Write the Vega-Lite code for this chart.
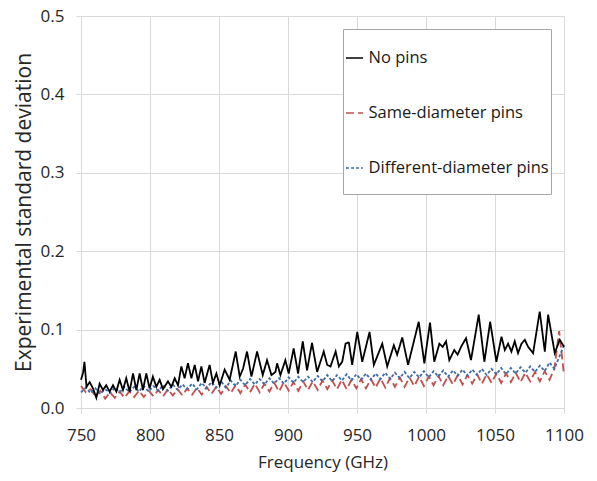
{
  "$schema": "https://vega.github.io/schema/vega-lite/v6.json",
  "width": 483,
  "height": 392,
  "autosize": {"type": "none"},
  "padding": {"left": 81, "top": 16, "right": 33, "bottom": 73},
  "config": {
    "font": "Open Sans",
    "view": {"stroke": null},
    "axis": {
      "gridColor": "#d9d9d9", "domainColor": "#d9d9d9", "tickColor": "#d9d9d9", "tickSize": 5,
      "labelFontSize": 17, "labelColor": "#262626", "titleFontSize": 17, "titleFontWeight": "normal", "titleColor": "#262626"
    },
    "legend": {
      "orient": "none", "legendX": 262, "legendY": 13,
      "strokeColor": "#a6a6a6", "fillColor": "white", "padding": 2,
      "symbolType": "M0,-0.77M0,0.77M-0.327,0H0.327", "symbolSize": 2704, "symbolStrokeWidth": 1.6,
      "symbolOffset": -17.5, "labelOffset": -13, "rowPadding": 4,
      "labelFontSize": 16.5, "labelColor": "#1a1a1a", "labelLimit": 300
    }
  },
  "datasets": {
    "black": [
      {"f":750,"v":0.036},{"f":751.5,"v":0.045},{"f":752.5,"v":0.059},{"f":754,"v":0.027},{"f":756.3,"v":0.033},
      {"f":758.7,"v":0.025},{"f":761.1,"v":0.013},{"f":763.5,"v":0.031},{"f":765.9,"v":0.023},{"f":768.3,"v":0.029},
      {"f":770.7,"v":0.021},{"f":773.2,"v":0.029},{"f":775.6,"v":0.021},{"f":778,"v":0.036},{"f":780.4,"v":0.023},
      {"f":782.8,"v":0.038},{"f":785.2,"v":0.021},{"f":787.7,"v":0.044},{"f":790.1,"v":0.023},{"f":792.5,"v":0.044},
      {"f":794.9,"v":0.023},{"f":797.3,"v":0.044},{"f":799.7,"v":0.025},{"f":802.1,"v":0.04},{"f":804.6,"v":0.027},
      {"f":807,"v":0.036},{"f":809.4,"v":0.024},{"f":813,"v":0.034},{"f":815.5,"v":0.027},{"f":817.9,"v":0.038},
      {"f":820.3,"v":0.029},{"f":822.7,"v":0.053},{"f":825.1,"v":0.038},{"f":827.5,"v":0.057},{"f":830,"v":0.038},
      {"f":832.4,"v":0.055},{"f":834.8,"v":0.034},{"f":837.2,"v":0.053},{"f":839.6,"v":0.032},{"f":843.2,"v":0.055},
      {"f":845.6,"v":0.032},{"f":848.1,"v":0.044},{"f":850.5,"v":0.029},{"f":854.1,"v":0.049},{"f":857.7,"v":0.036},
      {"f":862.1,"v":0.072},{"f":865,"v":0.04},{"f":867.4,"v":0.05},{"f":870.3,"v":0.072},{"f":873.5,"v":0.04},
      {"f":877.6,"v":0.072},{"f":881.7,"v":0.042},{"f":884.8,"v":0.061},{"f":888,"v":0.042},{"f":890.9,"v":0.046},
      {"f":892.1,"v":0.057},{"f":894.5,"v":0.042},{"f":898.1,"v":0.061},{"f":900.5,"v":0.044},{"f":904.1,"v":0.076},
      {"f":907.3,"v":0.044},{"f":910.7,"v":0.085},{"f":913.8,"v":0.048},{"f":917.4,"v":0.083},{"f":921.1,"v":0.046},
      {"f":925.9,"v":0.072},{"f":928.4,"v":0.055},{"f":930.8,"v":0.053},{"f":934.5,"v":0.072},{"f":936.9,"v":0.053},
      {"f":939.3,"v":0.059},{"f":941.7,"v":0.082},{"f":944.1,"v":0.084},{"f":946.5,"v":0.055},{"f":950.2,"v":0.097},
      {"f":953.8,"v":0.059},{"f":959.1,"v":0.097},{"f":962.2,"v":0.055},{"f":968.3,"v":0.082},{"f":971.9,"v":0.053},
      {"f":976.7,"v":0.08},{"f":979.1,"v":0.068},{"f":982.8,"v":0.09},{"f":987,"v":0.055},{"f":994.7,"v":0.11},
      {"f":998.8,"v":0.057},{"f":1002.9,"v":0.109},{"f":1006,"v":0.059},{"f":1009.7,"v":0.082},{"f":1012.1,"v":0.078},
      {"f":1014.5,"v":0.085},{"f":1016.9,"v":0.061},{"f":1020.5,"v":0.074},{"f":1022.9,"v":0.068},{"f":1025.4,"v":0.078},
      {"f":1029,"v":0.089},{"f":1032.6,"v":0.061},{"f":1038.2,"v":0.119},{"f":1042.3,"v":0.059},{"f":1046.5,"v":0.11},
      {"f":1051,"v":0.059},{"f":1054.7,"v":0.091},{"f":1057.1,"v":0.074},{"f":1059.5,"v":0.082},{"f":1061.9,"v":0.072},
      {"f":1064.3,"v":0.085},{"f":1066.7,"v":0.07},{"f":1069.2,"v":0.082},{"f":1071.6,"v":0.087},{"f":1074,"v":0.078},
      {"f":1077.6,"v":0.07},{"f":1082.4,"v":0.123},{"f":1086.1,"v":0.072},{"f":1088.5,"v":0.119},{"f":1093.3,"v":0.07},
      {"f":1096.9,"v":0.087},{"f":1100,"v":0.078}
    ],
    "pins": [
      {"f":750,"Same-diameter pins":0.028,"Different-diameter pins":0.02},
      {"f":753.5,"Same-diameter pins":0.02,"Different-diameter pins":0.026},
      {"f":757,"Same-diameter pins":0.024,"Different-diameter pins":0.019},
      {"f":760.5,"Same-diameter pins":0.015,"Different-diameter pins":0.025},
      {"f":764,"Same-diameter pins":0.022,"Different-diameter pins":0.018},
      {"f":767.5,"Same-diameter pins":0.012,"Different-diameter pins":0.024},
      {"f":771,"Same-diameter pins":0.02,"Different-diameter pins":0.019},
      {"f":774.5,"Same-diameter pins":0.013,"Different-diameter pins":0.026},
      {"f":778,"Same-diameter pins":0.021,"Different-diameter pins":0.02},
      {"f":781.5,"Same-diameter pins":0.013,"Different-diameter pins":0.027},
      {"f":785,"Same-diameter pins":0.021,"Different-diameter pins":0.02},
      {"f":788.5,"Same-diameter pins":0.014,"Different-diameter pins":0.027},
      {"f":792,"Same-diameter pins":0.022,"Different-diameter pins":0.021},
      {"f":795.5,"Same-diameter pins":0.014,"Different-diameter pins":0.028},
      {"f":799,"Same-diameter pins":0.022,"Different-diameter pins":0.021},
      {"f":802.5,"Same-diameter pins":0.015,"Different-diameter pins":0.028},
      {"f":806,"Same-diameter pins":0.023,"Different-diameter pins":0.022},
      {"f":809.5,"Same-diameter pins":0.015,"Different-diameter pins":0.029},
      {"f":813,"Same-diameter pins":0.024,"Different-diameter pins":0.022},
      {"f":816.5,"Same-diameter pins":0.016,"Different-diameter pins":0.03},
      {"f":820,"Same-diameter pins":0.024,"Different-diameter pins":0.023},
      {"f":823.5,"Same-diameter pins":0.016,"Different-diameter pins":0.03},
      {"f":827,"Same-diameter pins":0.025,"Different-diameter pins":0.024},
      {"f":830.5,"Same-diameter pins":0.017,"Different-diameter pins":0.031},
      {"f":834,"Same-diameter pins":0.026,"Different-diameter pins":0.024},
      {"f":837.5,"Same-diameter pins":0.017,"Different-diameter pins":0.032},
      {"f":841,"Same-diameter pins":0.027,"Different-diameter pins":0.025},
      {"f":844.5,"Same-diameter pins":0.018,"Different-diameter pins":0.033},
      {"f":848,"Same-diameter pins":0.027,"Different-diameter pins":0.026},
      {"f":851.5,"Same-diameter pins":0.018,"Different-diameter pins":0.034},
      {"f":855,"Same-diameter pins":0.028,"Different-diameter pins":0.026},
      {"f":858.5,"Same-diameter pins":0.019,"Different-diameter pins":0.035},
      {"f":862,"Same-diameter pins":0.029,"Different-diameter pins":0.028},
      {"f":865.5,"Same-diameter pins":0.019,"Different-diameter pins":0.036},
      {"f":869,"Same-diameter pins":0.03,"Different-diameter pins":0.029},
      {"f":872.5,"Same-diameter pins":0.02,"Different-diameter pins":0.037},
      {"f":876,"Same-diameter pins":0.031,"Different-diameter pins":0.03},
      {"f":879.5,"Same-diameter pins":0.02,"Different-diameter pins":0.037},
      {"f":883,"Same-diameter pins":0.031,"Different-diameter pins":0.03},
      {"f":886.5,"Same-diameter pins":0.021,"Different-diameter pins":0.038},
      {"f":890,"Same-diameter pins":0.032,"Different-diameter pins":0.031},
      {"f":893.5,"Same-diameter pins":0.021,"Different-diameter pins":0.038},
      {"f":897,"Same-diameter pins":0.033,"Different-diameter pins":0.031},
      {"f":900.5,"Same-diameter pins":0.022,"Different-diameter pins":0.039},
      {"f":904,"Same-diameter pins":0.033,"Different-diameter pins":0.032},
      {"f":907.5,"Same-diameter pins":0.022,"Different-diameter pins":0.04},
      {"f":911,"Same-diameter pins":0.034,"Different-diameter pins":0.033},
      {"f":914.5,"Same-diameter pins":0.023,"Different-diameter pins":0.04},
      {"f":918,"Same-diameter pins":0.034,"Different-diameter pins":0.033},
      {"f":921.5,"Same-diameter pins":0.023,"Different-diameter pins":0.041},
      {"f":925,"Same-diameter pins":0.035,"Different-diameter pins":0.034},
      {"f":928.5,"Same-diameter pins":0.024,"Different-diameter pins":0.042},
      {"f":932,"Same-diameter pins":0.035,"Different-diameter pins":0.034},
      {"f":935.5,"Same-diameter pins":0.024,"Different-diameter pins":0.042},
      {"f":939,"Same-diameter pins":0.036,"Different-diameter pins":0.035},
      {"f":942.5,"Same-diameter pins":0.024,"Different-diameter pins":0.043},
      {"f":946,"Same-diameter pins":0.036,"Different-diameter pins":0.035},
      {"f":949.5,"Same-diameter pins":0.025,"Different-diameter pins":0.043},
      {"f":953,"Same-diameter pins":0.037,"Different-diameter pins":0.036},
      {"f":956.5,"Same-diameter pins":0.025,"Different-diameter pins":0.044},
      {"f":960,"Same-diameter pins":0.037,"Different-diameter pins":0.036},
      {"f":963.5,"Same-diameter pins":0.026,"Different-diameter pins":0.044},
      {"f":967,"Same-diameter pins":0.038,"Different-diameter pins":0.037},
      {"f":970.5,"Same-diameter pins":0.026,"Different-diameter pins":0.045},
      {"f":974,"Same-diameter pins":0.038,"Different-diameter pins":0.037},
      {"f":977.5,"Same-diameter pins":0.027,"Different-diameter pins":0.045},
      {"f":981,"Same-diameter pins":0.039,"Different-diameter pins":0.038},
      {"f":984.5,"Same-diameter pins":0.027,"Different-diameter pins":0.046},
      {"f":988,"Same-diameter pins":0.039,"Different-diameter pins":0.038},
      {"f":991.5,"Same-diameter pins":0.028,"Different-diameter pins":0.046},
      {"f":995,"Same-diameter pins":0.04,"Different-diameter pins":0.039},
      {"f":998.5,"Same-diameter pins":0.028,"Different-diameter pins":0.047},
      {"f":1002,"Same-diameter pins":0.04,"Different-diameter pins":0.039},
      {"f":1005.5,"Same-diameter pins":0.029,"Different-diameter pins":0.047},
      {"f":1009,"Same-diameter pins":0.041,"Different-diameter pins":0.04},
      {"f":1012.5,"Same-diameter pins":0.029,"Different-diameter pins":0.048},
      {"f":1016,"Same-diameter pins":0.041,"Different-diameter pins":0.04},
      {"f":1019.5,"Same-diameter pins":0.03,"Different-diameter pins":0.048},
      {"f":1023,"Same-diameter pins":0.042,"Different-diameter pins":0.041},
      {"f":1026.5,"Same-diameter pins":0.03,"Different-diameter pins":0.049},
      {"f":1030,"Same-diameter pins":0.042,"Different-diameter pins":0.041},
      {"f":1033.5,"Same-diameter pins":0.031,"Different-diameter pins":0.049},
      {"f":1037,"Same-diameter pins":0.043,"Different-diameter pins":0.042},
      {"f":1040.5,"Same-diameter pins":0.031,"Different-diameter pins":0.05},
      {"f":1044,"Same-diameter pins":0.043,"Different-diameter pins":0.042},
      {"f":1047.5,"Same-diameter pins":0.032,"Different-diameter pins":0.05},
      {"f":1051,"Same-diameter pins":0.044,"Different-diameter pins":0.043},
      {"f":1054.5,"Same-diameter pins":0.032,"Different-diameter pins":0.051},
      {"f":1058,"Same-diameter pins":0.044,"Different-diameter pins":0.043},
      {"f":1061.5,"Same-diameter pins":0.033,"Different-diameter pins":0.051},
      {"f":1065,"Same-diameter pins":0.045,"Different-diameter pins":0.044},
      {"f":1068.5,"Same-diameter pins":0.033,"Different-diameter pins":0.052},
      {"f":1072,"Same-diameter pins":0.045,"Different-diameter pins":0.045},
      {"f":1075.5,"Same-diameter pins":0.034,"Different-diameter pins":0.053},
      {"f":1079,"Same-diameter pins":0.046,"Different-diameter pins":0.046},
      {"f":1082.5,"Same-diameter pins":0.034,"Different-diameter pins":0.054},
      {"f":1086,"Same-diameter pins":0.047,"Different-diameter pins":0.047},
      {"f":1089.5,"Same-diameter pins":0.036,"Different-diameter pins":0.058},
      {"f":1093,"Same-diameter pins":0.05,"Different-diameter pins":0.05},
      {"f":1096.5,"Same-diameter pins":0.098,"Different-diameter pins":0.065},
      {"f":1100,"Same-diameter pins":0.042,"Different-diameter pins":0.08}
    ]
  },
  "encoding": {
    "x": {"field": "f", "type": "quantitative", "scale": {"domain": [750, 1100], "nice": false},
      "axis": {"values": [750, 800, 850, 900, 950, 1000, 1050, 1100], "format": "d", "labelFlush": false, "labelPadding": 14, "titlePadding": 11, "title": "Frequency (GHz)"}},
    "y": {"field": "v", "type": "quantitative", "scale": {"domain": [0, 0.5], "nice": false},
      "axis": {"values": [0, 0.1, 0.2, 0.3, 0.4, 0.5], "format": ".1f", "labelFlush": false, "labelPadding": 12, "titlePadding": 6, "title": "Experimental standard deviation", "titleFontSize": 21}},
    "color": {"field": "s", "type": "nominal", "title": null,
      "scale": {"domain": ["No pins", "Same-diameter pins", "Different-diameter pins"], "range": ["#000000", "#c0504d", "#3e6da6"]}},
    "strokeDash": {"field": "s", "type": "nominal", "title": null,
      "scale": {"domain": ["No pins", "Same-diameter pins", "Different-diameter pins"], "range": [[1, 0], [8, 4], [3, 2]]}}
  },
  "layer": [
    {"data": {"name": "pins"}, "transform": [{"fold": ["Same-diameter pins", "Different-diameter pins"], "as": ["s", "v"]}],
     "mark": {"type": "line", "strokeWidth": 1.8}},
    {"data": {"name": "black"}, "transform": [{"calculate": "'No pins'", "as": "s"}],
     "mark": {"type": "line", "strokeWidth": 1.8}}
  ]
}
